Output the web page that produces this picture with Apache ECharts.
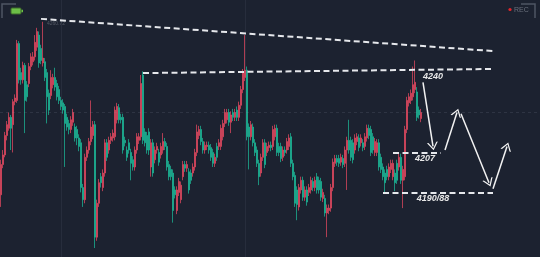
<!DOCTYPE html>
<html>
<head>
<meta charset="utf-8">
<script src="https://cdn.jsdelivr.net/npm/echarts@6/dist/echarts.min.js"></script>
<style>
html,body{margin:0;padding:0;background:#1c2230;}
#c{width:540px;height:257px;}
</style>
</head>
<body>
<div id="c"></div>
<script>
// ---- candle data (price) ----
const openP = [
4188.5,4201,4205,4213,4216,4220.5,4217.5,4227,4227.5,4251,
4239,4236,4242,4234,4234.5,4241.5,4243.5,4245.5,4249.5,4254.5,
4249,4243,4243.5,4239,4230.5,4229.5,4234,4237,4234.5,4232,
4227.5,4226.5,4225,4220.5,4218,4215.5,4218.5,4216.5,4215.5,4212,
4210,4191.5,4186.5,4204,4207,4210.5,4213,4217.5,4171,4185,
4196,4191.5,4197.5,4210,4207,4211,4212,4212.5,4219.5,4224.5,
4220.5,4220.5,4211,4207,4210,4206,4203,4200,4207,4211,
4212.5,4238,4214.5,4213,4214.5,4200,4210,4203,4207,4206,
4205,4207,4210.5,4208.5,4201,4199,4197.5,4190.5,4182,4189.5,
4186.5,4196,4201,4199.5,4198,4197.5,4197.5,4200,4206,4213,
4215.5,4210.5,4207,4208.5,4209,4208,4206,4201.5,4208.5,4208.5,
4208.5,4212.5,4218,4219.5,4222.5,4218.5,4222.5,4220.5,4223.5,4220.5,
4225.5,4232,4237,4240,4216.5,4212.5,4216.5,4210,4207,4201.5,
4197.5,4204,4210,4206,4208,4209,4208.5,4212.5,4216,4208.5,
4208.5,4204,4207,4207,4208.5,4212.5,4201.5,4196.5,4190.5,4183.5,
4190.5,4194.5,4187.5,4190.5,4189.5,4190.5,4194,4191.5,4196,4194.5,
4194,4187,4187,4181,4182,4183,4191.5,4201.5,4203.5,4203.5,
4202,4203.5,4201.5,4207,4211,4211,4210,4207,4210.5,4212,
4210,4210,4208.5,4212,4216,4215.5,4212.5,4206,4206,4210,
4204,4200,4197.5,4199,4196,4199,4196,4197.5,4201.5,4200,
4204,4194.5,4196,4215.5,4226.5,4227.5,4229,4232,4231,4223.5,
4220
];
const closeP = [
4201,4205,4213,4217.5,4220.5,4216,4227,4228.5,4251,4236,
4236,4242,4227.5,4229,4241.5,4245.5,4245.5,4251.5,4256,4243,
4244,4245,4237,4229,4223.5,4237,4237,4233,4229,4227.5,
4225,4223.5,4218,4216.5,4215.5,4219.5,4222.5,4212,4212,4208.5,
4191.5,4186.5,4204,4207,4210.5,4216.5,4217.5,4171,4185,4193.5,
4193.5,4197.5,4210,4204,4211,4212.5,4214,4223.5,4225,4219.5,
4219.5,4207,4210,4204,4207,4201.5,4200,4207,4212.5,4212.5,
4234.5,4211,4210,4207,4207,4210,4197.5,4207,4208.5,4202,
4208.5,4210.5,4208.5,4200,4196,4196,4182,4188.5,4190.5,4194,
4192.5,4201,4199.5,4201,4190.5,4194.5,4200,4206,4214.5,4215.5,
4210.5,4207,4209,4209,4207,4204,4201.5,4204,4204,4210,
4216,4218,4222.5,4222.5,4218.5,4221.5,4220.5,4222.5,4220.5,4225.5,
4232,4239,4240,4212.5,4212.5,4217.5,4210,4206,4201.5,4196,
4204,4210,4201,4208.5,4209,4208,4215.5,4216,4206,4206,
4203.5,4207,4206,4210.5,4212,4201.5,4196,4185,4184.5,4191.5,
4194.5,4187.5,4190.5,4185.5,4191.5,4194.5,4191.5,4194.5,4190.5,4190.5,
4187.5,4189.5,4181,4183,4183,4191.5,4202,4203.5,4202,4201.5,
4204,4201,4207,4211,4207,4204,4203,4212,4212.5,4208,
4212,4208,4212.5,4216,4213,4206,4207,4210.5,4210,4200,
4199,4196,4193.5,4196,4200,4201.5,4201.5,4193.5,4194.5,4204,
4194.5,4199,4215.5,4227.5,4229,4230.5,4234,4235,4220.5,4221.5,
4222.5
];
const lowP = [
4183.5,4199.5,4204,4211,4215,4207,4206,4225.5,4226.5,4234.5,
4234,4234.5,4214,4227,4233,4240,4242,4244,4248,4241,
4242.5,4241.5,4235.5,4218,4221.5,4228,4232.5,4231.5,4227.5,4226,
4223.5,4222,4200,4215,4213.5,4214,4217,4210.5,4209,4206.5,
4189.5,4183.5,4185,4202.5,4205.5,4209,4211.5,4166.5,4169.5,4183.5,
4191.5,4190,4196,4202.5,4205.5,4209.5,4210.5,4211,4218,4218,
4218,4205.5,4208.5,4202.5,4205.5,4194.5,4198.5,4198.5,4205.5,4209.5,
4211,4209.5,4208.5,4205.5,4205,4196,4196,4201.5,4205.5,4200.5,
4203.5,4205.5,4207,4198.5,4194.5,4194.5,4177,4187,4180.5,4188,
4185,4194.5,4198,4198,4189,4193,4196,4198.5,4204.5,4211.5,
4209,4205.5,4205.5,4207,4205.5,4202.5,4200,4200,4202.5,4207,
4207,4211,4216.5,4218,4217,4214,4219,4219,4219,4219,
4224,4230.5,4235.5,4211,4199,4211,4208.5,4204.5,4200,4192.5,
4196,4202.5,4199.5,4204.5,4206.5,4206.5,4207,4211,4204.5,4204.5,
4202,4202.5,4204.5,4205.5,4207,4200,4194.5,4183.5,4178,4182,
4189,4186,4186,4184,4188,4189,4190,4190,4189,4189,
4186,4185.5,4179.5,4171,4180.5,4181.5,4190,4200,4200.5,4200,
4200.5,4199.5,4200,4190.5,4205.5,4202.5,4201.5,4205.5,4209,4206.5,
4208.5,4206.5,4207,4210.5,4211.5,4204.5,4205.5,4204.5,4204.5,4198.5,
4197.5,4194.5,4189.5,4194.5,4194.5,4197.5,4194.5,4190,4193,4198.5,
4193,4183,4194.5,4214,4225,4226,4227.5,4230.5,4219,4220,
4218.5
];
const highP = [
4203,4207,4214.5,4219,4222.5,4221.5,4228,4230,4252.5,4252,
4241,4243.5,4243,4235.5,4243,4247,4247.5,4254.5,4257.5,4256,
4250.5,4260,4245,4240.5,4232,4240,4238.5,4241,4236,4233.5,
4229,4228,4226,4222,4219.5,4221,4224,4218,4217,4213.5,
4211.5,4193,4205.5,4208.5,4212,4227.5,4219,4219,4186.5,4195,
4197.5,4199,4211.5,4211.5,4212.5,4214,4215.5,4225,4226.5,4226,
4222,4222,4212.5,4208.5,4211.5,4207.5,4204.5,4208.5,4214,4214,
4238,4239.5,4216,4214.5,4216,4211.5,4211.5,4208.5,4210,4207.5,
4210,4214,4212,4210,4202.5,4200.5,4199,4192,4192,4195.5,
4194,4202.5,4202.5,4202.5,4199.5,4199,4201.5,4207.5,4217.5,4217,
4217,4212,4210.5,4210.5,4210.5,4209.5,4207.5,4205.5,4210,4211.5,
4217.5,4219.5,4224,4224,4224,4223,4224,4224,4225,4227,
4233.5,4240.5,4254.5,4241.5,4218,4219,4218,4211.5,4208.5,4203,
4205.5,4211.5,4211.5,4210,4210.5,4210.5,4217,4217.5,4217.5,4210,
4210,4208.5,4208.5,4212,4213.5,4214,4203,4198,4192,4193,
4196,4196,4192,4192,4193,4196,4195.5,4196,4197.5,4196,
4195.5,4191,4188.5,4184.5,4184.5,4193,4203.5,4205,4205,4205,
4205.5,4205,4208.5,4212.5,4219.5,4212.5,4211.5,4213.5,4214,4213.5,
4213.5,4211.5,4214,4217.5,4217.5,4217,4214,4212,4211.5,4211.5,
4205.5,4201.5,4199,4200.5,4201.5,4203,4203,4199,4203,4205.5,
4205.5,4200.5,4217,4229,4230.5,4232,4241.5,4244,4233,4225,
4224
];
// ---- annotation levels (price) ----
const levelLabels = ['4240', '4207', '4190/88'];
const trendTop = [[20, 4261.2], [246, 4247.9]];
const resistance = [[71, 4238.8], [245, 4240.5]];
const support1 = [[196, 4206], [220, 4206]];
const support2 = [[191, 4189.5], [246, 4189.5]];
const arrowPaths = [
  [[211, 4235], [216, 4208.5]],
  [[222, 4207], [228, 4222.5]],
  [[230, 4222], [244, 4193.5]],
  [[246, 4191], [253, 4208.5]]
];
const labelPos = [[216, 4237.3], [212, 4203.6], [216, 4187]];

const N_CAT = 270;
const cats = Array.from({length: N_CAT}, (_, i) => String(i));
const candles = openP.map((o, i) => [o, closeP[i], lowP[i], highP[i]]);

const UP = '#e0485f', DOWN = '#1cb596';
const chevron = 'path://M0,10 L5,0 L10,10 L8.6,10 L5,2.6 L1.4,10 Z';

const dashStyle = {color: '#e6e8ec', width: 2, type: [6, 3.5]};
const mkSeg = (seg, style, sym) => [
  {coord: seg[0], symbol: 'none', lineStyle: style},
  {coord: seg[1], symbol: sym || 'none'}
];

const chart = echarts.init(document.getElementById('c'));
chart.setOption({
  backgroundColor: '#1c2230',
  animation: false,
  grid: {left: 0, right: 0, top: 0, bottom: 0},
  xAxis: {
    type: 'category', data: cats, boundaryGap: true,
    axisLine: {show: false}, axisTick: {show: false}, axisLabel: {show: false},
    splitLine: {show: false}
  },
  yAxis: {
    type: 'value', min: 4162.8, max: 4269, show: false, splitLine: {show: false}
  },
  series: [{
    type: 'candlestick',
    data: candles,
    barWidth: 2,
    itemStyle: {
      color: UP, color0: DOWN,
      borderColor: 'rgba(224,72,95,0.75)', borderColor0: 'rgba(28,181,150,0.75)',
      borderWidth: 1
    },
    markLine: {
      silent: true, animation: false,
      symbol: ['none', 'none'],
      label: {show: false},
      data: [
        {xAxis: 30, lineStyle: {color: 'rgba(140,150,170,0.10)', width: 1, type: 'solid'}},
        {xAxis: 122, lineStyle: {color: 'rgba(140,150,170,0.10)', width: 1, type: 'solid'}},
        {yAxis: 4222.7, lineStyle: {color: 'rgba(140,150,170,0.16)', width: 1, type: [3, 3]}},
        mkSeg(trendTop, dashStyle),
        mkSeg(resistance, dashStyle),
        mkSeg(support1, dashStyle),
        mkSeg(support2, dashStyle),
        ...arrowPaths.map(a => [
          {coord: a[0], symbol: 'none', lineStyle: {color: '#f2f2f2', width: 1.5, type: 'solid'}},
          {coord: a[1], symbol: chevron, symbolSize: [11, 8]}
        ])
      ]
    },
    markPoint: {
      silent: true, animation: false,
      symbol: 'circle', symbolSize: 0,
      label: {
        show: true, position: 'inside',
        color: '#e8e8e8', fontSize: 9, fontStyle: 'italic', fontWeight: 'bold',
        fontFamily: 'Liberation Sans, Arial, sans-serif'
      },
      data: labelPos.map((p, i) => ({coord: p, value: levelLabels[i], label: {formatter: levelLabels[i]}}))
    }
  }],
  graphic: [
    {type: 'polyline', shape: {points: [[2, 18], [2, 4], [16, 4]]}, style: {stroke: '#4e5563', lineWidth: 1.5, fill: null}},
    {type: 'rect', shape: {x: 11, y: 8, width: 10, height: 6, r: 1}, style: {fill: '#6cbf47', stroke: '#3d6b2b', lineWidth: 1}},
    {type: 'rect', shape: {x: 21.5, y: 9.8, width: 1.5, height: 2.4}, style: {fill: '#6cbf47'}},
    {type: 'text', x: 47, y: 21, style: {text: '4260.72', fill: 'rgba(150,155,165,0.45)', font: '5px Liberation Sans'}},
    {type: 'polyline', shape: {points: [[521, 4], [535, 4], [535, 18]]}, style: {stroke: '#4e5563', lineWidth: 1.5, fill: null}},
    {type: 'circle', shape: {cx: 510, cy: 9.5, r: 1.6}, style: {fill: '#e3262b'}},
    {type: 'text', x: 514, y: 6.5, style: {text: 'REC', fill: '#6a707c', font: '7px Liberation Sans'}}
  ]
});
</script>
</body>
</html>
